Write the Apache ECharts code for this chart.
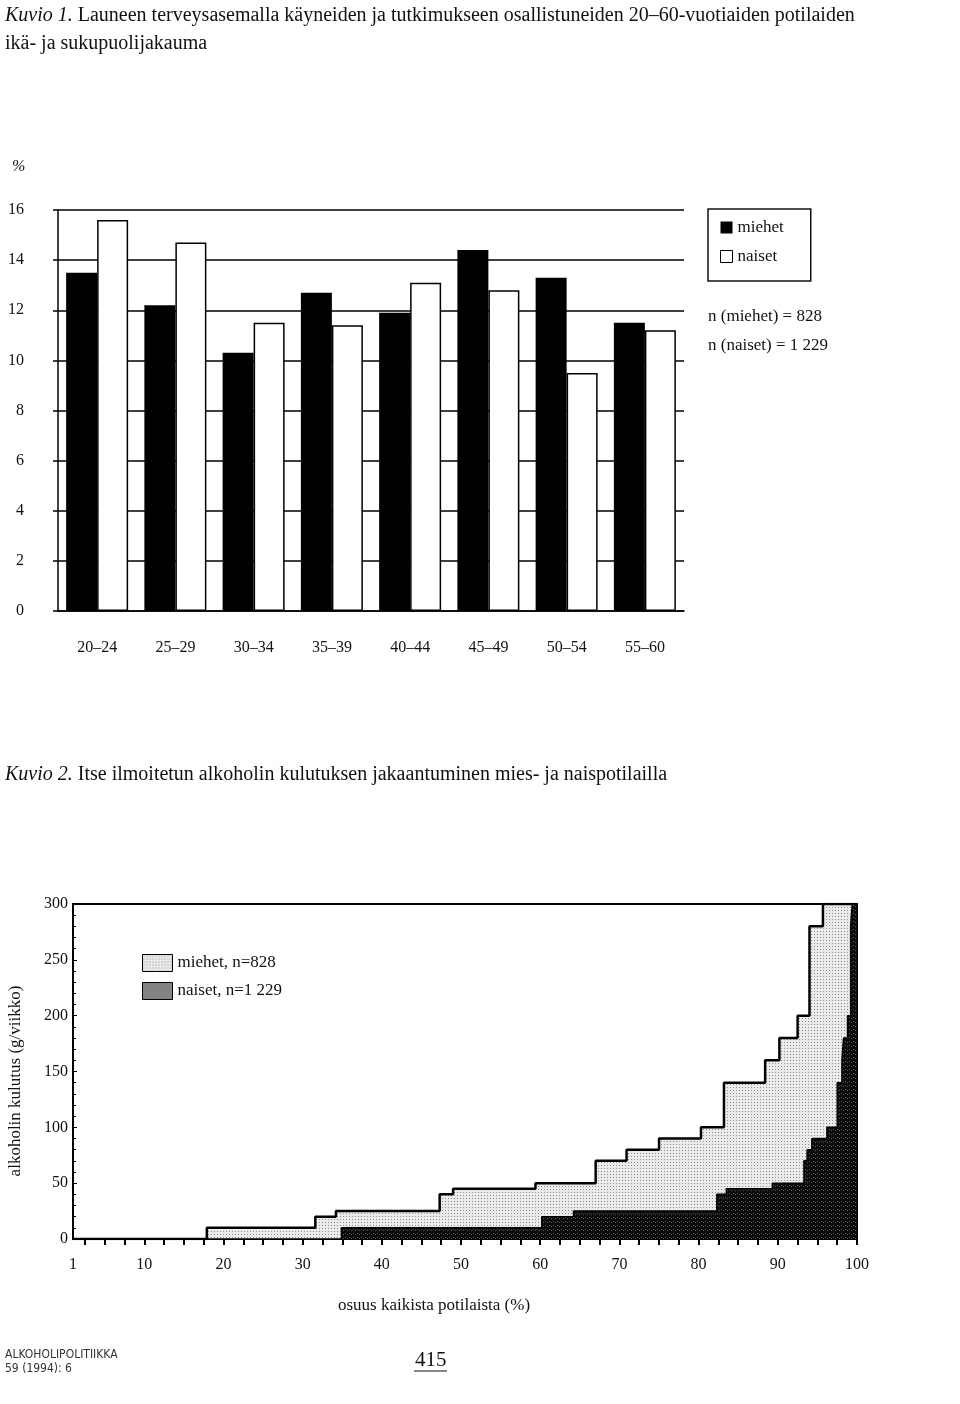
<!DOCTYPE html>
<html><head><meta charset="utf-8">
<script src="https://cdn.jsdelivr.net/npm/echarts@6/dist/echarts.min.js"></script>
<style>html,body{margin:0;padding:0;background:#fff}#c{width:960px;height:1404px}</style>
</head><body><div id="c"></div>
<script>
// ---- Kuvio 1 data ----
const ageGroups = ['20–24','25–29','30–34','35–39','40–44','45–49','50–54','55–60'];
const menPct    = [13.5, 12.2, 10.3, 12.7, 11.9, 14.4, 13.3, 11.5];
const womenPct  = [15.6, 14.7, 11.5, 11.4, 13.1, 12.8,  9.5, 11.2];
const pctTicks  = [0, 2, 4, 6, 8, 10, 12, 14, 16];

// ---- Kuvio 2 data: [share of patients (%), consumption g/week] step starts ----
const menConsumption = [[1,0],[17.9,10],[31.6,20],[34.2,25],[47.3,40],[49.0,45],[59.4,50],[67.0,70],[70.9,80],[75.0,90],[80.3,100],[83.2,140],[88.4,160],[90.2,180],[92.5,200],[94.0,280],[95.7,300],[100,300]];
const womenConsumption = [[1,0],[34.9,10],[60.2,20],[64.2,25],[82.3,40],[83.5,45],[89.3,50],[93.3,70],[93.7,80],[94.3,90],[96.2,100],[97.5,140],[98.1,160],[98.3,180],[98.8,200],[99.2,280],[99.4,300],[100,300]];
const shareTicks  = [2.5,5,7.5,10,12.5,15,17.5,20,22.5,25,27.5,30,32.5,35,37.5,40,42.5,45,47.5,50,52.5,55,57.5,60,62.5,65,67.5,70,72.5,75,77.5,80,82.5,85,87.5,90,92.5,95,97.5,100];
const shareLabels = [1,10,20,30,40,50,60,70,80,90,100];
const consumptionTicks = [0,50,100,150,200,250,300];

const SERIF = "'Liberation Serif','Times New Roman',serif";
const SANS_N = "'Liberation Sans Narrow','DejaVu Sans Condensed','Liberation Sans',sans-serif";

function pattern(bg, fg, size, pts){
  const cv = document.createElement('canvas');
  cv.width = size; cv.height = size;
  const ctx = cv.getContext('2d');
  ctx.fillStyle = bg; ctx.fillRect(0,0,size,size);
  ctx.fillStyle = fg;
  pts.forEach(p => ctx.fillRect(p[0],p[1],1,1));
  return {image: cv, repeat: 'repeat'};
}
const lightFill = pattern('#eaeaea', '#8f8f8f', 3, [[1,1]]);
const darkFill  = pattern('#0d0d0d', '#555555', 4, [[1,1],[3,2]]);
const legendDark = pattern('#bdbdbd', '#4a4a4a', 2, [[0,0],[1,1]]);

const chart = echarts.init(document.getElementById('c'), null, {renderer:'canvas'});
chart.setOption({
  animation: false,
  backgroundColor: '#fff',
  textStyle: {fontFamily: SERIF, color: '#111'},
  grid: [
    {left: 58, top: 210, width: 626, height: 401},
    {left: 73, top: 904, width: 784, height: 335, show: true, borderColor: '#000', borderWidth: 2, backgroundColor: 'transparent'}
  ],
  legend: [
    {
      left: 708, top: 209, orient: 'vertical', icon: 'rect',
      itemWidth: 12, itemHeight: 12, itemGap: 12,
      padding: [10, 27, 16, 12],
      borderColor: '#111', borderWidth: 1.5,
      textStyle: {fontFamily: SERIF, fontSize: 17, color: '#111'},
      data: [
        {name: 'miehet', itemStyle: {color: '#000', borderWidth: 0}},
        {name: 'naiset', itemStyle: {color: '#fff', borderColor: '#000', borderWidth: 1}}
      ]
    },
    {
      left: 137, top: 949, orient: 'vertical', icon: 'rect',
      itemWidth: 30, itemHeight: 17, itemGap: 10,
      textStyle: {fontFamily: SERIF, fontSize: 17, color: '#111'},
      data: [
        {name: 'miehet, n=828', itemStyle: {color: lightFill, borderColor: '#000', borderWidth: 1}},
        {name: 'naiset, n=1 229', itemStyle: {color: legendDark, borderColor: '#000', borderWidth: 1}}
      ]
    }
  ],
  xAxis: [
    {
      type: 'category', gridIndex: 0, data: ageGroups,
      axisLine: {lineStyle: {color: '#000', width: 1.5}},
      axisTick: {length: 7, lineStyle: {color: '#000', width: 1.5}},
      axisLabel: {margin: 29, fontSize: 16, color: '#111', fontFamily: SERIF}
    },
    {
      type: 'value', gridIndex: 1, min: 1, max: 100,
      axisLine: {lineStyle: {color: '#000', width: 2}},
      axisTick: {customValues: shareTicks, length: 6, lineStyle: {color: '#000', width: 2}},
      axisLabel: {customValues: shareLabels, margin: 18, fontSize: 16, color: '#111', fontFamily: SERIF},
      splitLine: {show: false}
    }
  ],
  yAxis: [
    {
      type: 'value', gridIndex: 0, min: 0, max: 16, interval: 2,
      axisLine: {show: true, lineStyle: {color: '#000', width: 1.5}},
      axisTick: {show: true, customValues: pctTicks, length: 5, lineStyle: {color: '#000', width: 1.5}},
      axisLabel: {customValues: pctTicks, margin: 34, fontSize: 16, color: '#111', fontFamily: SERIF},
      splitLine: {lineStyle: {color: '#000', width: 1.5}}
    },
    {
      type: 'value', gridIndex: 1, min: 0, max: 300, interval: 50,
      axisLine: {show: true, lineStyle: {color: '#000', width: 2}},
      axisTick: {show: true, inside: true, length: 4, lineStyle: {color: '#000', width: 1}},
      minorTick: {show: true, splitNumber: 5, length: 3, lineStyle: {color: '#000', width: 1}},
      axisLabel: {customValues: consumptionTicks, margin: 5, fontSize: 16, color: '#111', fontFamily: SERIF},
      splitLine: {show: false}
    }
  ],
  series: [
    {name: 'miehet', type: 'bar', xAxisIndex: 0, yAxisIndex: 0, data: menPct,
      barWidth: 31, barGap: '0%', itemStyle: {color: '#000'}},
    {name: 'naiset', type: 'bar', xAxisIndex: 0, yAxisIndex: 0, data: womenPct,
      barWidth: 31, barGap: '0%', itemStyle: {color: '#fff', borderColor: '#000', borderWidth: 1.5}},
    {name: 'miehet, n=828', type: 'line', xAxisIndex: 1, yAxisIndex: 1, step: 'end',
      data: menConsumption, symbol: 'none', showSymbol: false,
      lineStyle: {color: '#000', width: 2.5}, itemStyle: {color: '#ddd'},
      areaStyle: {color: lightFill, opacity: 1}, z: 2},
    {name: 'naiset, n=1 229', type: 'line', xAxisIndex: 1, yAxisIndex: 1, step: 'end',
      data: womenConsumption, symbol: 'none', showSymbol: false,
      lineStyle: {color: '#000', width: 1.5}, itemStyle: {color: '#555'},
      areaStyle: {color: darkFill, opacity: 1}, z: 3}
  ],
  graphic: [
    {type: 'text', left: 5, top: 6, style: {
      text: '{i|Kuvio 1.} Launeen terveysasemalla käyneiden ja tutkimukseen osallistuneiden 20–60-vuotiaiden potilaiden',
      font: '20px ' + SERIF, fill: '#111',
      rich: {i: {fontStyle: 'italic', fontSize: 20, fontFamily: SERIF, fill: '#111'}}}},
    {type: 'text', left: 5, top: 34, style: {text: 'ikä- ja sukupuolijakauma', font: '20px ' + SERIF, fill: '#111'}},
    {type: 'text', left: 12, top: 159, style: {text: '%', font: 'italic 16px ' + SERIF, fill: '#111'}},
    {type: 'text', left: 708, top: 308, style: {text: 'n (miehet) = 828', font: '17px ' + SERIF, fill: '#111'}},
    {type: 'text', left: 708, top: 337, style: {text: 'n (naiset) = 1 229', font: '17px ' + SERIF, fill: '#111'}},
    {type: 'text', left: 5, top: 765, style: {
      text: '{i|Kuvio 2.} Itse ilmoitetun alkoholin kulutuksen jakaantuminen mies- ja naispotilailla',
      font: '20px ' + SERIF, fill: '#111',
      rich: {i: {fontStyle: 'italic', fontSize: 20, fontFamily: SERIF, fill: '#111'}}}},
    {type: 'text', x: 16, y: 1081, rotation: Math.PI / 2, style: {text: 'alkoholin kulutus (g/viikko)', font: '17px ' + SERIF, fill: '#111', align: 'center', verticalAlign: 'middle'}},
    {type: 'text', x: 434, y: 1306, style: {text: 'osuus kaikista potilaista (%)', font: '17px ' + SERIF, fill: '#111', align: 'center', verticalAlign: 'middle'}},
    {type: 'text', left: 5, top: 1349, style: {text: 'ALKOHOLIPOLITIIKKA', font: '12px ' + SANS_N, fill: '#333'}},
    {type: 'text', left: 5, top: 1363, style: {text: '59 (1994): 6', font: '12px ' + SANS_N, fill: '#333'}},
    {type: 'text', left: 415, top: 1350, style: {text: '415', font: '21px ' + SERIF, fill: '#111'}},
    {type: 'line', shape: {x1: 414, y1: 1371, x2: 447, y2: 1371}, style: {stroke: '#111', lineWidth: 1.2}}
  ]
});
</script></body></html>
